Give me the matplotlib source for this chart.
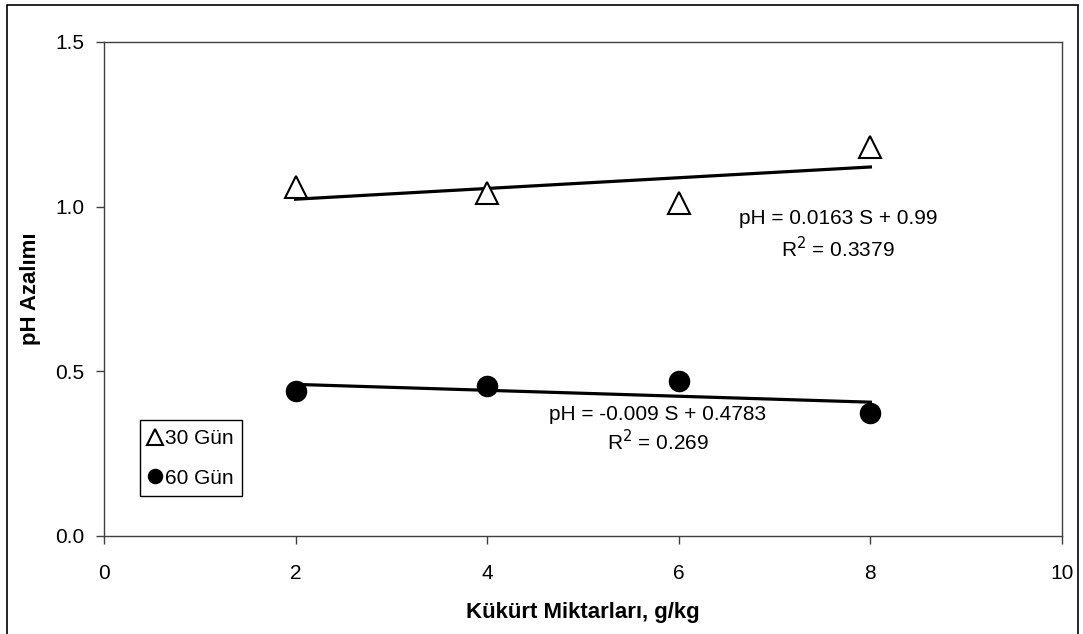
import matplotlib.pyplot as plt
import matplotlib.patches as mpatches
import numpy as np

plt.rcParams['font.family'] = ['Liberation Sans', 'DejaVu Sans']

# Data
sulfur = [2, 4, 6, 8]  # g/kg
ph_30 = [1.06, 1.04, 1.01, 1.18]
ph_60 = [0.44, 0.455, 0.472, 0.374]

# Trend lines as printed on the chart
slope_30, icpt_30 = 0.0163, 0.99
slope_60, icpt_60 = -0.009, 0.4783

fig = plt.figure(figsize=(10.83, 6.34), dpi=100)
ax = fig.add_axes([0.096, 0.1546, 0.8846, 0.7792])

# outer chart frame
fig.patches.append(mpatches.Rectangle((0.0065, -0.02), 0.989, 1.012, transform=fig.transFigure,
                                      fill=False, edgecolor='black', linewidth=1.2))

xs = np.array([sulfur[0], sulfur[-1]])
ax.plot(xs, slope_30 * xs + icpt_30, color='black', lw=2.3, zorder=2)
ax.plot(xs, slope_60 * xs + icpt_60, color='black', lw=2.3, zorder=2)

ax.plot(sulfur, ph_30, linestyle='none', marker='^', ms=16, mfc='white', mec='black',
        mew=1.5, label='30 Gün', zorder=3)
ax.plot(sulfur, ph_60, linestyle='none', marker='o', ms=14.5, mfc='black', mec='black',
        label='60 Gün', zorder=3)

ax.text(7.66, 0.963, 'pH = 0.0163 S + 0.99', fontsize=15, ha='center', va='center')
ax.text(7.66, 0.872, 'R$^2$ = 0.3379', fontsize=15, ha='center', va='center')
ax.text(5.78, 0.37, 'pH = -0.009 S + 0.4783', fontsize=15, ha='center', va='center')
ax.text(5.78, 0.288, 'R$^2$ = 0.269', fontsize=15, ha='center', va='center')

ax.set_xlim(0, 10)
ax.set_ylim(0, 1.5)
ax.set_xticks([0, 2, 4, 6, 8, 10])
ax.set_yticks([0, 0.5, 1.0, 1.5])
ax.set_yticklabels(['0.0', '0.5', '1.0', '1.5'])
ax.tick_params(direction='out', length=6, width=1, labelsize=15, colors='#404040',
               labelcolor='black')
ax.tick_params(axis='x', pad=14)
ax.tick_params(axis='y', pad=8)
for s in ax.spines.values():
    s.set_color('#404040')
    s.set_linewidth(1)

ax.set_xlabel('Kükürt Miktarları, g/kg', fontsize=16, fontweight='bold', labelpad=14)
ax.set_ylabel('pH Azalımı', fontsize=16, fontweight='bold', labelpad=10)

leg = ax.legend(loc='lower left', bbox_to_anchor=(0.038, 0.081), fontsize=15, markerscale=0.7,
                handlelength=0.6, handletextpad=0.2, borderpad=0.4, labelspacing=1.0,
                fancybox=False, edgecolor='black', framealpha=1, borderaxespad=0)
leg.get_frame().set_linewidth(1)

fig.savefig('out.png', dpi=100)
